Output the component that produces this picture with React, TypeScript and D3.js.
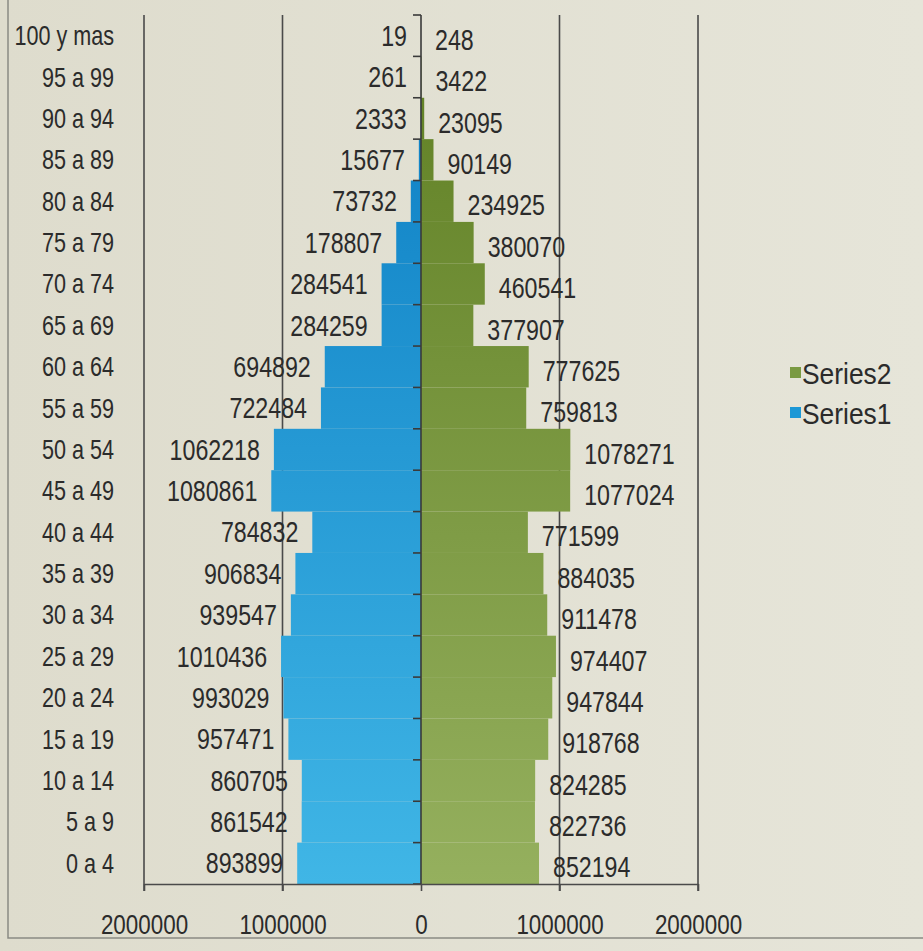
import { useEffect, useRef } from 'react';
import * as d3 from 'd3';

// age groups, bottom to top
const categories = [
  '0 a 4', '5 a 9', '10 a 14', '15 a 19', '20 a 24', '25 a 29', '30 a 34',
  '35 a 39', '40 a 44', '45 a 49', '50 a 54', '55 a 59', '60 a 64', '65 a 69',
  '70 a 74', '75 a 79', '80 a 84', '85 a 89', '90 a 94', '95 a 99', '100 y mas',
];
const series1 = [
  893899, 861542, 860705, 957471, 993029, 1010436, 939547, 906834, 784832,
  1080861, 1062218, 722484, 694892, 284259, 284541, 178807, 73732, 15677, 2333, 261, 19,
];
const series2 = [
  852194, 822736, 824285, 918768, 947844, 974407, 911478, 884035, 771599,
  1077024, 1078271, 759813, 777625, 377907, 460541, 380070, 234925, 90149, 23095, 3422, 248,
];
const xTicks = [-2000000, -1000000, 0, 1000000, 2000000];
const seriesNames = ['Series2', 'Series1'];

const FONT = '"Liberation Sans", Arial, sans-serif';
// the photo's font is a narrow one, squeeze Liberation Sans to match
const SQ = 0.8;
const place = (px: number, py: number, sq = SQ) => `translate(${px},${py}) scale(${sq},1)`;

export default function App() {
  const ref = useRef<HTMLDivElement>(null);
  useEffect(() => {
    const width = 923;
    const height = 951;
    const plotTop = 15;
    const plotBottom = 884;
    const plotLeft = 144;
    const plotRight = 698;

    const x = d3.scaleLinear()
      .domain([-2000000, 2000000])
      .range([plotLeft, plotRight]);

    const y = d3.scaleBand<string>()
      .domain([...categories].reverse())
      .range([plotTop, plotBottom])
      .padding(0);

    const svg = d3.create('svg')
      .attr('width', width)
      .attr('height', height)
      .attr('viewBox', [0, 0, width, height])
      .attr('style', 'position:absolute;left:0;top:0;display:block')
      .attr('font-family', FONT);

    const defs = svg.append('defs');
    const grad = (id: string, c0: string, c1: string) => {
      const g = defs.append('linearGradient')
        .attr('id', id)
        .attr('gradientUnits', 'userSpaceOnUse')
        .attr('x1', 0).attr('x2', 0)
        .attr('y1', plotTop).attr('y2', plotBottom);
      g.append('stop').attr('offset', 0).attr('stop-color', c0);
      g.append('stop').attr('offset', 1).attr('stop-color', c1);
    };
    grad('blueFill', '#0a7cc2', '#40b6e6');
    grad('greenFill', '#5e7e22', '#95b05e');

    // background, a little lighter on the right like the photo
    const bg = defs.append('linearGradient').attr('id', 'bg')
      .attr('x1', 0).attr('x2', 1).attr('y1', 0).attr('y2', 0);
    bg.append('stop').attr('offset', 0).attr('stop-color', '#dedccd');
    bg.append('stop').attr('offset', 1).attr('stop-color', '#e6e5d9');
    svg.append('rect')
      .attr('width', width).attr('height', height)
      .attr('fill', 'url(#bg)');

    // chart area border
    svg.append('path')
      .attr('d', `M8,0V938H${width}`)
      .attr('fill', 'none')
      .attr('stroke', '#8a8a84')
      .attr('stroke-width', 1.5);

    // vertical gridlines
    svg.append('g')
      .attr('stroke', '#4a4a4a')
      .attr('stroke-width', 1.6)
      .selectAll()
      .data(xTicks.filter((d) => d !== 0))
      .join('line')
      .attr('x1', (d) => x(d))
      .attr('x2', (d) => x(d))
      .attr('y1', plotTop)
      .attr('y2', plotBottom + 7);

    // bars
    const rows = categories.map((c, i) => ({ c, a: series1[i], b: series2[i] }));
    svg.append('g')
      .attr('fill', 'url(#blueFill)')
      .selectAll()
      .data(rows)
      .join('rect')
      .attr('x', (d) => x(-d.a))
      .attr('width', (d) => x(0) - x(-d.a))
      .attr('y', (d) => y(d.c)!)
      .attr('height', y.bandwidth());

    svg.append('g')
      .attr('fill', 'url(#greenFill)')
      .selectAll()
      .data(rows)
      .join('rect')
      .attr('x', x(0))
      .attr('width', (d) => x(d.b) - x(0))
      .attr('y', (d) => y(d.c)!)
      .attr('height', y.bandwidth());

    // category axis at zero
    const axis = svg.append('g').attr('stroke', '#3a3a3a').attr('stroke-width', 1.6);
    axis.append('line')
      .attr('x1', x(0)).attr('x2', x(0))
      .attr('y1', plotTop).attr('y2', plotBottom);
    axis.selectAll('line.tk')
      .data(d3.range(categories.length + 1))
      .join('line')
      .attr('class', 'tk')
      .attr('x1', x(0) - 8)
      .attr('x2', x(0))
      .attr('y1', (i) => plotTop + i * y.step())
      .attr('y2', (i) => plotTop + i * y.step());

    // value axis at the bottom
    svg.append('g')
      .attr('transform', `translate(0,${plotBottom})`)
      .call(d3.axisBottom(x)
        .tickValues(xTicks)
        .tickSize(7)
        .tickSizeOuter(0)
        .tickFormat((d) => String(Math.abs(+d))))
      .call((g) => g.select('.domain').attr('stroke', '#4a4a4a').attr('stroke-width', 1.6))
      .call((g) => g.selectAll('.tick line').attr('stroke', '#4a4a4a').attr('stroke-width', 1.6))
      .call((g) => g.selectAll('.tick text')
        .attr('font-family', FONT)
        .attr('font-size', 28)
        .attr('fill', '#2b2b2b')
        .attr('y', 0)
        .attr('dy', 0)
        .attr('transform', place(0, 50)));

    // category labels on the left
    svg.append('g')
      .attr('font-size', 27)
      .attr('fill', '#2b2b2b')
      .attr('text-anchor', 'end')
      .selectAll()
      .data(categories)
      .join('text')
      .attr('transform', (d) => place(114, y(d)! + y.bandwidth() / 2))
      .attr('dy', '0.35em')
      .text((d) => d);

    // data labels
    svg.append('g')
      .attr('font-size', 29)
      .attr('fill', '#2b2b2b')
      .attr('text-anchor', 'end')
      .selectAll()
      .data(rows)
      .join('text')
      .attr('transform', (d) => place(x(-d.a) - 14, y(d.c)! + y.bandwidth() / 2))
      .attr('dy', '0.35em')
      .text((d) => d.a);

    svg.append('g')
      .attr('font-size', 29)
      .attr('fill', '#2b2b2b')
      .attr('text-anchor', 'start')
      .selectAll()
      .data(rows)
      .join('text')
      .attr('transform', (d) => place(x(d.b) + 14, y(d.c)! + y.bandwidth() / 2 + 4))
      .attr('dy', '0.35em')
      .text((d) => d.b);

    // legend
    const legendColors = ['#7a9a42', '#1c98d6'];
    const lg = svg.append('g')
      .attr('transform', 'translate(790,373)')
      .selectAll()
      .data(seriesNames)
      .join('g')
      .attr('transform', (_, i) => `translate(0,${i * 40})`);
    lg.append('rect')
      .attr('x', 0).attr('y', -6)
      .attr('width', 11).attr('height', 11)
      .attr('fill', (_, i) => legendColors[i]);
    lg.append('text')
      .attr('transform', place(12, 0, 0.88))
      .attr('dy', '0.35em')
      .attr('font-size', 30)
      .attr('fill', '#2b2b2b')
      .text((d) => d);

    const node = svg.node()!;
    ref.current?.append(node);
    return () => {
      node.remove();
    };
  });
  return (
    <div ref={ref}>

    </div>
  );
}
